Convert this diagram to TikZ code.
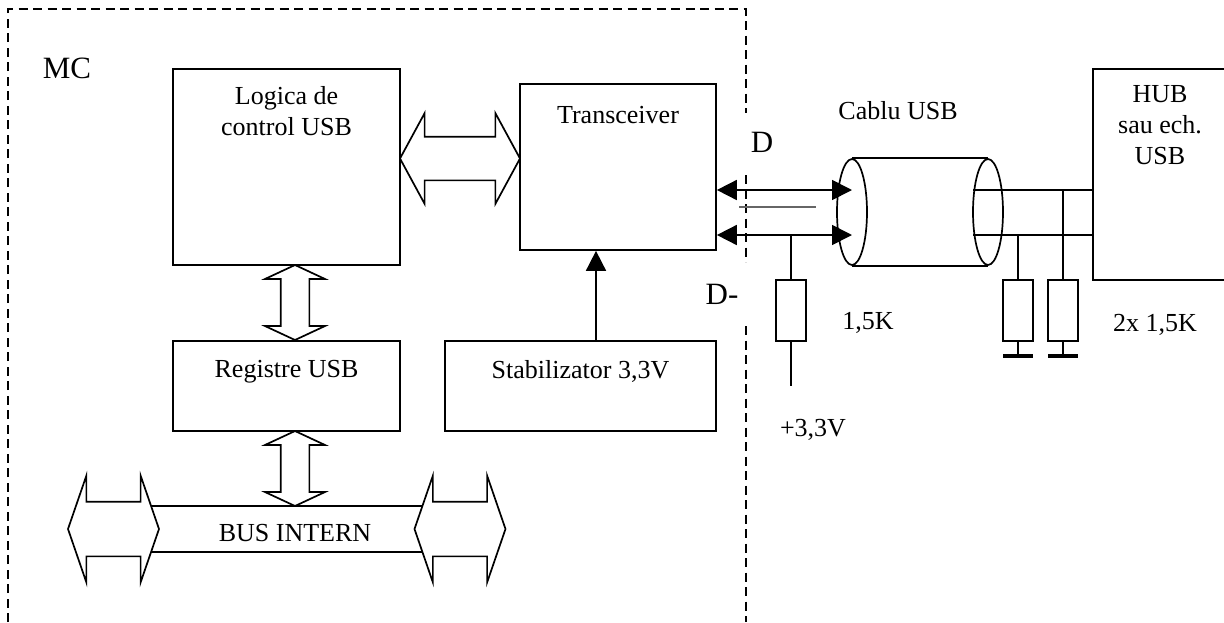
\documentclass[tikz,border=0pt]{standalone}
\usepackage{fontspec}
\setmainfont{Liberation Serif}
\usetikzlibrary{shapes,arrows.meta,positioning}
\tikzset{
  every node/.style={
    font=\fontsize{26}{31}\selectfont,
    inner sep=0pt,
    line width=1.7pt
  },
  every path/.style={
    line width=1.7pt
  },
  blockbox/.style n args={2}{
    shape=rectangle,
    draw,
    label={[align=center,anchor=north,yshift=#1]north:#2}
  },
  bigtext/.style={
    font=\fontsize{31}{32}\selectfont,
    anchor=base
  },
  smalltext/.style={
    anchor=base
  },
  resistor/.style={
    shape=rectangle,
    draw,
    minimum width=30pt,
    minimum height=61pt
  },
  cableend/.style={
    shape=ellipse,
    draw,
    minimum width=30pt,
    minimum height=106pt
  },
  busarrow/.style={
    shape=double arrow,
    draw,
    inner ysep=26.5pt,
    minimum height=91pt,
    minimum width=105pt,
    double arrow head extend=26pt,
    double arrow tip angle=142
  },
  regarrow/.style={
    shape=double arrow,
    draw,
    shape border rotate=90,
    inner xsep=13.5pt,
    minimum height=75pt,
    minimum width=59pt,
    double arrow head extend=15.5pt,
    double arrow tip angle=130
  },
  signal/.style={
    {Triangle[length=20pt,width=20pt]}-{Triangle[length=20pt,width=20pt]}
  },
  boundary/.style={
    line width=1.7pt,
    dash pattern=on 9pt off 5.5pt
  }
}
\begin{document}
\begin{tikzpicture}[x=1pt,y=-1pt]
  \useasboundingbox (0,0) rectangle (1224,622);

  \draw [boundary] (8,622) -- (8,9) -- (746,9) -- (746,113);
  \draw [boundary] (746,175) -- (746,262);
  \draw [boundary] (746,326) -- (746,622);
  \node [bigtext] (mclabel) at (67,78) {MC};

  \node [blockbox={-17.5pt}{Logica de\\control USB}, minimum width=227pt, minimum height=196pt] (logica) at (286.5,167) {};
  \node [blockbox={-22pt}{Transceiver}, minimum width=196pt, minimum height=166pt] (transceiver) at (618,167) {};
  \node [blockbox={-19.5pt}{Registre USB}, minimum width=227pt, minimum height=90pt] (registre) at (286.5,386) {};
  \node [blockbox={-19.5pt}{Stabilizator 3,3V}, minimum width=271pt, minimum height=90pt] (stabilizator) at (580.5,386) {};
  \node [blockbox={-16.8pt}{HUB\\sau ech.\\USB}, minimum width=134pt, minimum height=211pt] (hub) at (1160,174.5) {};

  \node [shape=double arrow, draw, inner ysep=21pt, minimum height=120pt, minimum width=89pt,
    double arrow head extend=23.5pt, double arrow tip angle=123] (logicarrow) at (460,158.5) {};
  \node [regarrow] (upperarrow) at (295,302.5) {};
  \node [regarrow] (lowerarrow) at (295,468.5) {};

  \node [busarrow] (busleft) at (113.5,529) {};
  \node [busarrow] (busright) at (460,529) {};
  \coordinate (bustopa) at (151,506);
  \coordinate (bustopb) at (423,506);
  \coordinate (busbota) at (151,552);
  \coordinate (busbotb) at (423,552);
  \draw (bustopa) -- (bustopb);
  \draw (busbota) -- (busbotb);
  \node [smalltext] (buslabel) at (295,541) {BUS INTERN};

  \coordinate (feed) at (596,341);
  \draw [-{Triangle[length=20pt,width=20pt]}] (feed) -- (feed |- transceiver.south);

  \node [cableend] (cableleft) at (852,212) {};
  \node [cableend] (cableright) at (988,212) {};
  \draw (cableleft.north) -- (cableright.north);
  \draw (cableleft.south) -- (cableright.south);
  \node [smalltext] (cablelabel) at (898,119) {Cablu USB};

  \coordinate (dplus) at (852,190);
  \coordinate (dminus) at (852,235);
  \draw [signal] (dplus -| transceiver.east) -- (dplus);
  \draw [signal] (dminus -| transceiver.east) -- (dminus);
  \draw [gray!80!black, line width=1.2pt] (739,207) -- (816,207);
  \node [bigtext] (dlabel) at (762,152) {D};
  \node [bigtext] (dminuslabel) at (722,304) {D-};

  \coordinate (hubplus) at (973,190);
  \coordinate (hubminus) at (973,235);
  \draw (hubplus) -- (hubplus -| hub.west);
  \draw (hubminus) -- (hubminus -| hub.west);

  \node [resistor] (rpull) at (791,310.5) {};
  \node [resistor] (rhuba) at (1018,310.5) {};
  \node [resistor] (rhubb) at (1063,310.5) {};
  \draw (rpull.north |- dminus) -- (rpull.north);
  \coordinate (supply) at (791,386);
  \draw (rpull.south) -- (supply);
  \draw (rhuba.north |- hubminus) -- (rhuba.north);
  \draw (rhubb.north |- hubplus) -- (rhubb.north);

  \coordinate (gnda) at (1018,356);
  \coordinate (gndb) at (1063,356);
  \draw (rhuba.south) -- (gnda);
  \draw (rhubb.south) -- (gndb);
  \draw [line width=3.5pt] ([xshift=-15pt]gnda) -- ([xshift=15pt]gnda);
  \draw [line width=3.5pt] ([xshift=-15pt]gndb) -- ([xshift=15pt]gndb);

  \node [smalltext] (rpulllabel) at (868,329) {1,5K};
  \node [smalltext] (rhublabel) at (1155,331) {2x 1,5K};
  \node [smalltext] (supplylabel) at (813,436) {+3,3V};
\end{tikzpicture}
\end{document}
